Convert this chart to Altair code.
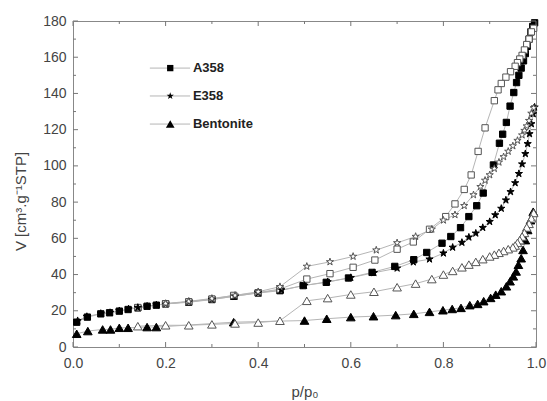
import altair as alt
import pandas as pd

# ---------------- data ----------------
a358_ads_x = [0.008, 0.031, 0.06, 0.079, 0.10, 0.119, 0.14, 0.16, 0.18, 0.20, 0.25, 0.30, 0.347, 0.40, 0.447,
              0.497, 0.547, 0.595, 0.646, 0.695, 0.736, 0.764, 0.797, 0.816, 0.837, 0.855, 0.872, 0.886,
              0.908, 0.921, 0.928, 0.936, 0.944, 0.952, 0.958, 0.963, 0.968, 0.973, 0.977, 0.981, 0.985,
              0.989, 0.993, 0.997]
a358_ads_y = [13.7, 16.5, 18.3, 18.9, 19.8, 20.7, 21.6, 22.5, 23.1, 23.8, 24.7, 26.2, 28.0, 29.8, 31.1,
              33.9, 35.7, 38.1, 41.2, 44.5, 48.2, 52.2, 57.3, 61.0, 65.9, 72.0, 78.0, 85.0,
              100.5, 112.5, 117.5, 124.0, 133.0, 140.5, 146.0, 150.0, 154.0, 158.0, 162.0, 166.0, 170.0,
              174.0, 177.0, 179.0]
a358_des_x = [0.995, 0.99, 0.985, 0.98, 0.975, 0.97, 0.965, 0.96, 0.955, 0.945, 0.935, 0.925, 0.918,
              0.91, 0.89, 0.875, 0.86, 0.845, 0.825, 0.805, 0.77, 0.735, 0.70, 0.652, 0.605, 0.555,
              0.505, 0.447, 0.40, 0.347, 0.30, 0.25, 0.20, 0.14]
a358_des_y = [176.0, 174.0, 170.0, 167.0, 164.0, 161.0, 159.0, 157.0, 155.0, 152.0, 149.0, 145.5, 142.0,
              136.0, 121.0, 108.0, 95.0, 87.0, 79.0, 72.0, 65.0, 58.0, 54.0, 48.0, 44.0, 40.5,
              37.5, 32.0, 30.0, 28.5, 26.5, 25.0, 23.8, 21.8]

e358_ads_x = [0.01, 0.03, 0.06, 0.08, 0.10, 0.12, 0.14, 0.16, 0.18, 0.20, 0.25, 0.30, 0.35, 0.40, 0.45,
              0.50, 0.55, 0.60, 0.65, 0.70, 0.735, 0.77, 0.80, 0.82, 0.84, 0.855, 0.87, 0.885, 0.90,
              0.912, 0.925, 0.935, 0.945, 0.955, 0.963, 0.97, 0.977, 0.982, 0.986, 0.99, 0.994, 0.997]
e358_ads_y = [14.5, 16.8, 18.5, 19.0, 20.0, 21.0, 21.8, 22.5, 23.2, 23.8, 25.0, 26.3, 28.0, 30.0, 31.5,
              34.0, 36.0, 38.3, 41.0, 43.5, 46.9, 48.5, 51.8, 55.0, 57.7, 60.6, 62.8, 65.9, 69.2,
              72.9, 76.5, 81.1, 85.7, 90.6, 95.7, 101.0, 106.7, 112.2, 117.7, 123.2, 128.7, 132.4]
e358_des_x = [0.995, 0.99, 0.985, 0.98, 0.975, 0.97, 0.96, 0.95, 0.94, 0.93, 0.92, 0.91, 0.90, 0.89,
              0.88, 0.865, 0.845, 0.825, 0.80, 0.775, 0.74, 0.70, 0.655, 0.605, 0.555, 0.505, 0.447,
              0.40, 0.35, 0.30, 0.25, 0.20]
e358_des_y = [132.0, 129.0, 125.0, 122.0, 119.5, 117.0, 114.0, 111.0, 108.0, 105.0, 102.0, 98.5, 95.0,
              92.0, 88.5, 84.0, 78.0, 73.0, 70.0, 65.0, 61.0, 57.5, 53.5, 50.0, 47.0, 44.5, 33.3,
              30.5, 28.5, 26.8, 25.2, 24.0]

bent_ads_x = [0.008, 0.032, 0.064, 0.081, 0.10, 0.119, 0.16, 0.18, 0.347, 0.50, 0.548, 0.60, 0.649,
              0.697, 0.736, 0.77, 0.799, 0.819, 0.838, 0.857, 0.874, 0.887, 0.902, 0.913, 0.925, 0.936,
              0.944, 0.951, 0.957, 0.962, 0.968, 0.972, 0.977, 0.982, 0.988, 0.994]
bent_ads_y = [7.3, 8.8, 9.7, 9.7, 10.6, 10.6, 11.0, 11.0, 13.7, 14.6, 15.6, 16.5, 17.0,
              17.6, 18.3, 19.4, 20.3, 21.0, 21.6, 23.1, 23.8, 25.3, 27.1, 28.9, 30.8, 33.5,
              36.3, 39.0, 41.7, 45.4, 49.0, 53.6, 59.0, 64.6, 70.0, 74.7]
bent_des_x = [0.995, 0.99, 0.985, 0.98, 0.975, 0.97, 0.965, 0.96, 0.955, 0.95, 0.94, 0.93, 0.92, 0.91,
              0.90, 0.885, 0.87, 0.855, 0.84, 0.82, 0.80, 0.775, 0.74, 0.70, 0.65, 0.60, 0.55, 0.505,
              0.447, 0.40, 0.35, 0.30, 0.25, 0.20, 0.14]
bent_des_y = [74.0, 71.0, 68.0, 66.0, 63.0, 61.0, 59.0, 57.5, 56.0, 55.0, 54.0, 53.0, 52.0, 51.0,
              50.0, 48.5, 47.0, 45.5, 44.0, 42.0, 40.0, 37.5, 35.0, 33.0, 30.5, 29.0, 27.0, 25.5,
              14.5, 13.5, 13.0, 12.5, 12.0, 12.0, 11.5]

series_names = ["A358", "E358", "Bentonite"]
x_major = [0.0, 0.2, 0.4, 0.6, 0.8, 1.0]
x_minor = [0.1, 0.3, 0.5, 0.7, 0.9]
y_major = [0, 20, 40, 60, 80, 100, 120, 140, 160, 180]
y_minor = [10, 30, 50, 70, 90, 110, 130, 150, 170]

# ---------------- build table ----------------
rows = []
for name, branch, xs, ys in [
    ("A358", "ads", a358_ads_x, a358_ads_y), ("A358", "des", a358_des_x, a358_des_y),
    ("E358", "ads", e358_ads_x, e358_ads_y), ("E358", "des", e358_des_x, e358_des_y),
    ("Bentonite", "ads", bent_ads_x, bent_ads_y), ("Bentonite", "des", bent_des_x, bent_des_y),
]:
    for i, (xv, yv) in enumerate(zip(xs, ys)):
        rows.append({"series": name, "branch": branch, "x": xv, "y": yv, "order": i})
df = pd.DataFrame(rows)

W, H = 463, 326
STAR = ("M0,-1L0.2245,-0.309L0.951,-0.309L0.363,0.118L0.588,0.809L0,0.382"
        "L-0.588,0.809L-0.363,0.118L-0.951,-0.309L-0.2245,-0.309Z")
FONT = "Liberation Sans"

xscale = alt.Scale(domain=[0, 1], nice=False, zero=False)
yscale = alt.Scale(domain=[0, 180], nice=False, zero=False)
xaxis = alt.Axis(values=x_major, format=".1f", ticks=False, domain=False, grid=False,
                 labelFlush=False, labelOverlap=False,
                 labelPadding=9, labelFontSize=14, labelColor="#444", labelFont=FONT,
                 title="p/p₀", titleFont=FONT, titleFontSize=15, titleFontWeight="normal",
                 titleColor="#444", titlePadding=14)
yaxis = alt.Axis(values=y_major, ticks=False, domain=False, grid=False,
                 labelFlush=False, labelOverlap=False,
                 labelPadding=7, labelFontSize=14, labelColor="#444", labelFont=FONT,
                 title="V [cm³.g⁻¹STP]", titleFont=FONT, titleFontSize=15,
                 titleFontWeight="normal", titleColor="#444", titleX=-45, titleY=180)

X = alt.X("x:Q", scale=xscale, axis=xaxis)
Y = alt.Y("y:Q", scale=yscale, axis=yaxis)

lines = alt.Chart(df).mark_line(color="#b5b5b5", strokeWidth=1).encode(
    x=X, y=Y, detail=["series:N", "branch:N"], order="order:Q")

shape_scale = alt.Scale(domain=series_names, range=["square", STAR, "triangle-up"])
size_scale = alt.Scale(domain=series_names, range=[40, 75, 55])

points = alt.Chart(df).mark_point(filled=True, strokeWidth=1, opacity=1).encode(
    x=X, y=Y,
    shape=alt.Shape("series:N", scale=shape_scale, legend=None),
    size=alt.Size("series:N", scale=size_scale, legend=None),
    fill=alt.Fill("branch:N", scale=alt.Scale(domain=["ads", "des"], range=["#000000", "#ffffff"]), legend=None),
    stroke=alt.Stroke("branch:N", scale=alt.Scale(domain=["ads", "des"], range=["#000000", "#555555"]), legend=None),
)

# ---------------- inward ticks on all four sides ----------------
tick_color = "#777"

def xticks(df_, ln, top):
    return alt.Chart(df_).mark_rule(color=tick_color, strokeWidth=1).encode(
        x=X, y=alt.value(0 if top else H), y2=alt.value(ln if top else H - ln))

def yticks(df_, ln, right):
    return alt.Chart(df_).mark_rule(color=tick_color, strokeWidth=1).encode(
        y=Y, x=alt.value(W if right else 0), x2=alt.value(W - ln if right else ln))

xt_maj = pd.DataFrame({"x": x_major})
xt_min = pd.DataFrame({"x": x_minor})
yt_maj = pd.DataFrame({"y": y_major})
yt_min = pd.DataFrame({"y": y_minor})
tick_layers = [
    xticks(xt_maj, 5, False), xticks(xt_min, 3, False), xticks(xt_maj, 5, True), xticks(xt_min, 3, True),
    yticks(yt_maj, 5, False), yticks(yt_min, 3, False), yticks(yt_maj, 5, True), yticks(yt_min, 3, True),
]

# ---------------- legend (inside, upper left) ----------------
leg = pd.DataFrame({
    "series": series_names,
    "y": [154.0, 138.6, 123.1],
    "x0": [0.166] * 3, "x1": [0.253] * 3, "xm": [0.21] * 3, "xt": [0.259] * 3,
})
leg_lines = alt.Chart(leg).mark_rule(color="#b5b5b5", strokeWidth=1).encode(
    x=alt.X("x0:Q", scale=xscale, axis=xaxis), x2="x1:Q", y=Y)
leg_pts = alt.Chart(leg).mark_point(filled=True, color="#000000", strokeWidth=1, opacity=1).encode(
    x=alt.X("xm:Q", scale=xscale, axis=xaxis), y=Y,
    shape=alt.Shape("series:N", scale=shape_scale, legend=None),
    size=alt.Size("series:N", scale=size_scale, legend=None))
leg_text = alt.Chart(leg).mark_text(align="left", baseline="middle", font=FONT, fontSize=13,
                                     fontWeight="bold", color="#222").encode(
    x=alt.X("xt:Q", scale=xscale, axis=xaxis), y=Y, text="series:N")

chart = alt.layer(lines, points, *tick_layers, leg_lines, leg_pts, leg_text).properties(
    width=W, height=H,
    padding={"left": 73, "top": 21, "right": 11, "bottom": 54},
    autosize=alt.AutoSizeParams(type="none"),
    background="white",
).configure_view(stroke="#888", strokeWidth=1)

chart.save("out.html", embed_options={"renderer": "svg", "actions": False})
